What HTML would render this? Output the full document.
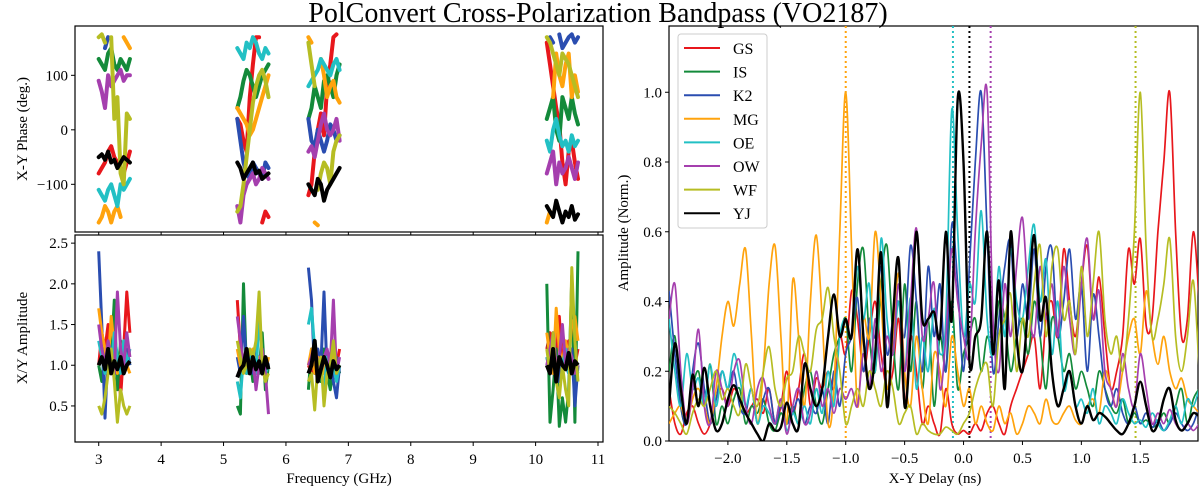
<!DOCTYPE html>
<html><head><meta charset="utf-8">
<style>
html,body{margin:0;padding:0;background:#fff;}
svg{display:block;font-family:"Liberation Serif","DejaVu Serif",serif;}
</style></head>
<body>
<svg id="fig" width="1200" height="492" viewBox="0 0 1200 492" xmlns="http://www.w3.org/2000/svg">
<text x="598" y="22" text-anchor="middle" font-size="28">PolConvert Cross-Polarization Bandpass (VO2187)</text>
</svg>
<script>
const stations = ["GS","IS","K2","MG","OE","OW","WF","YJ"];
const colors = ["#e8171c","#138a3a","#2a4db0","#ffa30d","#22c0c4","#a53fae","#b6bd23","#000000"];
const freqs = [];
const bandStarts = [3.00,5.22,6.36,10.18];
bandStarts.forEach(b=>{for(let k=0;k<11;k++)freqs.push(+(b+0.05*k).toFixed(2));});

const phaseGS=[-80,-70,-60,-40,-30,-50,-60,-70,-80,-60,-40, 20,10,-20,-40,60,120,170,170,-170,-150,-160, -120,-100,-40,0,30,-10,80,120,170,175,-160, 160,120,80,40,10,-60,-100,-40,-20,-60,-90];
const phaseIS=[130,120,110,140,150,120,110,130,120,110,130, 40,60,90,110,100,80,60,80,100,110,120, 20,40,80,60,40,90,100,80,60,100,120, 20,40,60,0,-20,60,40,20,60,30,10];
const phaseK2=[140,-160,150,170,-170,170,-150,160,-170,175,-165, 20,-20,-60,-80,-90,-60,-70,-80,-90,-60,-70, 20,-20,-30,0,-20,-40,-20,10,0,-20,-10, -170,170,160,-180,175,150,160,170,175,160,170];
const phaseMG=[-170,-160,-140,-150,-170,-150,-140,-160,170,160,150, 40,30,20,10,-10,0,20,40,60,80,100, 170,160,-170,-175,130,100,60,80,90,60,50, -170,-150,60,140,100,80,120,140,60,100,70];
const phaseOE=[-110,-120,-130,-110,-100,-120,-140,-100,-110,-100,-90, 150,140,130,160,150,170,160,140,130,150,140, 80,90,100,110,130,120,110,100,120,130,110, -20,-40,0,20,-10,-30,-20,-40,-10,-30,-20];
const phaseOW=[90,70,40,100,80,90,100,110,90,100,100, -140,-170,-120,-100,-90,-80,-100,-90,-70,-80,-90, -40,-30,-50,-20,10,30,0,-10,0,20,-20, -80,-60,-40,-100,-60,-80,-70,-50,-70,-90,-60];
const phaseWF=[170,175,160,-170,170,20,60,-80,-100,30,20, -150,-140,-100,-50,0,50,80,100,110,90,60, 160,120,80,-110,-80,-60,-70,-100,-40,-20,-10, 170,160,140,120,100,140,130,120,100,80,60];
const phaseYJ=[-50,-45,-55,-40,-60,-55,-70,-60,-50,-55,-60, -60,-70,-90,-80,-70,-60,-80,-75,-90,-85,-80, -100,-110,-120,-90,-100,-130,-110,-100,-90,-80,-70, -140,-150,-160,-130,-150,-170,-150,-160,-140,-165,-155];

const ampGS=[1.0,1.4,1.2,1.5,0.9,1.3,1.1,0.6,1.2,1.9,1.4, 1.8,1.2,1.0,0.9,1.1,1.0,0.9,1.1,1.0,0.9,1.0, 1.0,0.9,1.1,1.0,0.9,1.1,1.0,0.9,1.1,1.0,1.2, 1.2,1.4,0.9,1.1,1.6,1.0,1.2,1.3,1.1,1.0,1.2];
const ampIS=[1.0,0.8,1.2,0.9,1.1,1.8,0.7,1.3,0.9,1.2,1.0, 0.5,0.4,2.0,0.9,1.1,0.8,1.2,0.9,1.4,0.7,1.0, 0.7,1.2,0.9,1.1,0.8,1.2,0.9,0.7,1.0,1.1,0.9, 2.0,0.3,0.7,1.2,0.25,0.6,0.3,0.7,2.1,0.3,2.4];
const ampK2=[2.4,1.5,0.35,1.2,0.9,1.3,1.0,1.1,0.9,1.2,1.0, 1.1,0.9,1.6,1.0,1.1,0.9,1.2,1.0,0.9,1.1,1.0, 2.2,1.8,0.9,1.2,1.0,1.9,0.9,1.1,0.8,0.6,1.0, 1.1,0.9,1.2,1.0,0.8,1.1,1.0,0.9,1.2,0.5,1.0];
const ampMG=[1.7,1.4,1.2,1.0,1.6,1.2,0.9,1.1,1.3,1.0,0.9, 1.2,1.0,0.9,1.1,1.0,1.2,0.9,1.1,1.0,0.9,1.1, 1.0,1.2,0.9,1.1,1.0,0.9,1.1,1.0,1.2,0.9,1.0, 1.4,1.1,0.9,1.7,1.2,1.0,1.3,1.1,1.5,1.6,1.3];
const ampOE=[1.3,1.1,0.9,1.2,1.0,1.4,1.1,0.9,1.3,1.0,1.2, 0.8,0.6,1.1,0.9,1.2,1.0,0.9,1.6,1.1,0.9,1.0, 1.5,1.7,1.2,1.0,0.9,0.7,1.1,0.9,1.0,0.8,1.0, 1.1,1.0,1.2,0.9,1.1,1.0,1.2,0.9,1.1,1.0,0.9];
const ampOW=[1.5,1.2,1.0,1.3,1.1,0.9,1.9,1.2,1.0,1.4,1.1, 1.6,1.3,1.0,1.2,0.9,1.1,0.7,1.0,1.2,0.9,0.4, 1.0,1.1,1.3,1.0,0.9,1.1,1.2,1.0,1.8,0.9,1.1, 1.0,1.2,1.4,1.0,1.1,1.5,1.0,1.2,1.1,0.9,1.0];
const ampWF=[0.5,0.4,0.6,0.9,1.2,0.8,0.3,0.7,0.5,0.4,0.5, 1.3,1.1,0.9,1.0,1.2,1.1,1.3,1.9,1.0,0.8,0.9, 0.8,0.9,0.45,1.0,1.1,0.5,0.9,1.0,1.3,0.9,1.0, 1.2,0.9,1.4,0.8,0.6,1.0,0.7,0.5,2.2,1.3,0.8];
const ampYJ=[1.0,1.1,0.95,1.2,0.9,1.05,0.95,1.1,0.9,1.0,1.05, 0.85,0.95,1.0,1.2,0.9,1.1,0.95,1.05,0.9,1.1,0.95, 0.9,1.0,1.3,0.8,0.95,1.1,1.0,0.85,1.05,0.95,1.0, 1.0,0.9,1.2,0.8,1.1,1.0,0.95,1.15,0.9,1.05,1.0];

const delays=[];
for(let i=0;i<=90;i++)delays.push(+(-2.5+0.05*i).toFixed(2));
const lagGS=[0.15,0.05,0.02,0.08,0.1,0.05,0.02,0.05,0.12,0.15, 0.1,0.15,0.12,0.08,0.1,0.12,0.08,0.15,0.05,0.1, 0.2,0.08,0.15,0.25,0.1,0.18,0.15,0.2,0.15,0.3, 0.25,0.43,0.35,0.2,0.3,0.4,0.25,0.15,0.2,0.35, 0.1,0.3,0.2,0.05,0.1,0.05,0.02,0.15,0.05,0.02, 0.03,0.02,0.05,0.03,0.08,0.1,0.05,0.02,0.1,0.15, 0.2,0.25,0.3,0.15,0.35,0.4,0.3,0.55,0.4,0.3, 0.45,0.56,0.35,0.47,0.3,0.15,0.2,0.3,0.55,0.45, 0.58,0.33,0.35,0.6,0.8,1.0,0.6,0.3,0.35,0.6,0.4];
const lagIS=[0.2,0.3,0.1,0.05,0.15,0.2,0.1,0.22,0.05,0.1, 0.05,0.12,0.15,0.05,0.1,0.08,0.12,0.05,0.03,0.08, 0.05,0.1,0.05,0.15,0.2,0.1,0.05,0.15,0.25,0.3, 0.35,0.2,0.45,0.55,0.3,0.2,0.45,0.56,0.3,0.15, 0.45,0.2,0.4,0.15,0.35,0.1,0.3,0.2,0.4,0.15, 0.25,0.3,0.35,0.2,0.3,0.25,0.4,0.35,0.2,0.3, 0.35,0.25,0.4,0.3,0.15,0.35,0.3,0.2,0.25,0.15, 0.2,0.15,0.1,0.2,0.15,0.1,0.08,0.12,0.05,0.08, 0.05,0.06,0.04,0.05,0.08,0.05,0.1,0.15,0.05,0.12,0.15];
const lagK2=[0.43,0.25,0.1,0.05,0.2,0.28,0.15,0.05,0.12,0.2, 0.15,0.2,0.1,0.08,0.15,0.05,0.12,0.15,0.05,0.1, 0.05,0.08,0.12,0.05,0.1,0.08,0.15,0.05,0.2,0.1, 0.25,0.3,0.41,0.2,0.35,0.3,0.5,0.25,0.35,0.4, 0.3,0.56,0.4,0.2,0.5,0.3,0.45,0.2,0.62,0.45, 0.2,0.5,0.8,1.0,0.6,0.2,0.35,0.5,0.57,0.3, 0.45,0.35,0.55,0.3,0.5,0.55,0.3,0.4,0.55,0.35, 0.45,0.2,0.42,0.3,0.15,0.1,0.15,0.08,0.05,0.1, 0.05,0.08,0.04,0.06,0.03,0.05,0.08,0.05,0.03,0.05,0.1];
const lagMG=[0.05,0.08,0.1,0.05,0.12,0.15,0.1,0.05,0.15,0.3, 0.4,0.33,0.45,0.55,0.3,0.05,0.2,0.45,0.56,0.3, 0.05,0.46,0.3,0.1,0.4,0.59,0.35,0.05,0.15,0.6, 1.0,0.55,0.1,0.35,0.3,0.6,0.4,0.15,0.3,0.48, 0.2,0.1,0.3,0.15,0.05,0.25,0.2,0.1,0.3,0.2, 0.1,0.15,0.05,0.1,0.05,0.03,0.1,0.05,0.08,0.02, 0.05,0.1,0.08,0.05,0.12,0.06,0.05,0.08,0.1,0.06, 0.05,0.1,0.12,0.08,0.2,0.15,0.1,0.2,0.3,0.35, 0.25,0.43,0.3,0.22,0.3,0.2,0.15,0.18,0.12,0.1,0.08];
const lagOE=[0.35,0.2,0.1,0.25,0.15,0.18,0.1,0.22,0.1,0.2, 0.15,0.25,0.18,0.1,0.15,0.05,0.1,0.08,0.05,0.12, 0.03,0.08,0.05,0.1,0.05,0.15,0.08,0.2,0.1,0.3, 0.35,0.3,0.5,0.35,0.45,0.2,0.58,0.35,0.25,0.4, 0.2,0.41,0.15,0.3,0.2,0.38,0.25,0.35,0.95,0.6, 0.3,0.45,0.4,0.66,0.35,0.25,0.5,0.3,0.55,0.4, 0.35,0.5,0.62,0.4,0.52,0.25,0.4,0.15,0.2,0.1, 0.12,0.08,0.15,0.05,0.1,0.08,0.05,0.12,0.08,0.05, 0.06,0.04,0.08,0.05,0.03,0.06,0.1,0.05,0.12,0.1,0.15];
const lagOW=[0.35,0.45,0.2,0.05,0.15,0.32,0.1,0.05,0.2,0.15, 0.1,0.2,0.23,0.1,0.05,0.15,0.18,0.1,0.05,0.12, 0.02,0.1,0.15,0.05,0.08,0.2,0.1,0.15,0.08,0.15, 0.12,0.15,0.1,0.25,0.15,0.35,0.2,0.3,0.25,0.45, 0.2,0.4,0.61,0.3,0.35,0.45,0.15,0.3,0.55,0.4, 0.3,0.25,0.6,0.85,1.0,0.35,0.2,0.45,0.3,0.5, 0.64,0.4,0.3,0.5,0.35,0.45,0.3,0.5,0.35,0.25, 0.45,0.58,0.35,0.43,0.2,0.15,0.1,0.25,0.15,0.1, 0.25,0.15,0.05,0.08,0.05,0.09,0.05,0.03,0.05,0.03,0.05];
const lagWF=[0.1,0.08,0.05,0.02,0.08,0.12,0.1,0.15,0.2,0.12, 0.15,0.1,0.08,0.22,0.15,0.1,0.2,0.27,0.15,0.1, 0.18,0.2,0.3,0.25,0.2,0.32,0.35,0.44,0.3,0.2, 0.05,0.1,0.15,0.1,0.2,0.15,0.1,0.2,0.15,0.05, 0.08,0.1,0.02,0.05,0.03,0.02,0.02,0.04,0.03,0.02, 0.05,0.08,0.15,0.2,0.22,0.1,0.3,0.35,0.42,0.2, 0.35,0.3,0.45,0.56,0.3,0.5,0.55,0.35,0.4,0.25, 0.5,0.3,0.45,0.6,0.35,0.25,0.3,0.2,0.35,0.6, 1.0,0.55,0.3,0.35,0.45,0.58,0.3,0.2,0.3,0.46,0.2];
const lagYJ=[0.1,0.28,0.15,0.05,0.19,0.1,0.21,0.1,0.03,0.05, 0.12,0.16,0.12,0.08,0.05,0.02,0.0,0.05,0.03,0.04, 0.11,0.05,0.04,0.22,0.15,0.1,0.15,0.3,0.42,0.3, 0.35,0.3,0.55,0.3,0.15,0.25,0.54,0.1,0.35,0.52, 0.1,0.3,0.6,0.35,0.35,0.37,0.3,0.6,0.35,0.98, 0.8,0.23,0.3,0.35,0.6,0.25,0.46,0.15,0.6,0.3, 0.2,0.4,0.59,0.35,0.41,0.2,0.1,0.15,0.2,0.1, 0.05,0.1,0.06,0.08,0.07,0.05,0.03,0.02,0.05,0.1, 0.17,0.1,0.03,0.05,0.12,0.15,0.06,0.03,0.05,0.08,0.07];

const peakDelays=[-1.0,-0.09,0.05,0.23,1.46];
const peakStations=["MG","OE","YJ","OW","WF"];

const phaseTicks=[-100,0,100];
const ampTicks=[0.5,1.0,1.5,2.0,2.5];
const freqTicks=[3,4,5,6,7,8,9,10,11];
const delayTicks=[-2.0,-1.5,-1.0,-0.5,0.0,0.5,1.0,1.5];
const normTicks=[0.0,0.2,0.4,0.6,0.8,1.0];

const phases=[phaseGS,phaseIS,phaseK2,phaseMG,phaseOE,phaseOW,phaseWF,phaseYJ];
const amps=[ampGS,ampIS,ampK2,ampMG,ampOE,ampOW,ampWF,ampYJ];
const lags=[lagGS,lagIS,lagK2,lagMG,lagOE,lagOW,lagWF,lagYJ];

const NS="http://www.w3.org/2000/svg";
const svg=document.getElementById('fig');
function mk(tag,attrs,parent){const e=document.createElementNS(NS,tag);for(const k in attrs)e.setAttribute(k,attrs[k]);(parent||svg).appendChild(e);return e;}
function fmt(v,d){const s=v.toFixed(d);return v<0?'\u2212'+s.slice(1):s;}

const PL={x0:75,x1:603},TOP={y0:26,y1:232},BOT={y0:235,y1:442},PR={x0:669,x1:1198,y0:26,y1:441};
const fx=f=>PL.x0+(f-2.62)/(11.08-2.62)*(PL.x1-PL.x0);
const py=p=>TOP.y0+(190.5-p)/(190.5+187.5)*(TOP.y1-TOP.y0);
const ay=a=>BOT.y0+(2.6-a)/(2.6-0.057)*(BOT.y1-BOT.y0);
const dx=d=>PR.x0+(d+2.50)/(1.99+2.50)*(PR.x1-PR.x0);
const ny=v=>PR.y1-v/1.19*(PR.y1-PR.y0);

const defs=mk('defs',{});
[['clipTop',PL.x0,TOP.y0,PL.x1-PL.x0,TOP.y1-TOP.y0],['clipBot',PL.x0,BOT.y0,PL.x1-PL.x0,BOT.y1-BOT.y0],['clipR',PR.x0,PR.y0,PR.x1-PR.x0,PR.y1-PR.y0]].forEach(c=>{const cp=mk('clipPath',{id:c[0]},defs);mk('rect',{x:c[1],y:c[2],width:c[3],height:c[4]},cp);});

const gTop=mk('g',{'clip-path':'url(#clipTop)'});


stations.forEach((s,si)=>{
  for(let b=0;b<4;b++){
    let seg=[];
    const flush=()=>{if(seg.length){const pl=mk('polyline',{points:seg.join(' '),fill:'none',stroke:colors[si],'stroke-width':4,'stroke-linejoin':'round','stroke-linecap':'round'},gTop);
      
      }seg=[];};
    for(let k=0;k<11;k++){const i=b*11+k;
      if(k>0&&Math.abs(phases[si][i]-phases[si][i-1])>180)flush();
      seg.push(fx(freqs[i]).toFixed(1)+','+py(phases[si][i]).toFixed(1));}
    flush();
  }
});
const gBot=mk('g',{'clip-path':'url(#clipBot)'});


stations.forEach((s,si)=>{
  for(let b=0;b<4;b++){
    const pts=[];for(let k=0;k<11;k++){const i=b*11+k;pts.push(fx(freqs[i]).toFixed(1)+','+ay(amps[si][i]).toFixed(1));}
    const pl=mk('polyline',{points:pts.join(' '),fill:'none',stroke:colors[si],'stroke-width':si===7?4:3,'stroke-linejoin':'round'},gBot);
    
    
  }
});
[[PL.x0,TOP.y0,PL.x1,TOP.y1,'phase-axes-frame'],[PL.x0,BOT.y0,PL.x1,BOT.y1,'amplitude-axes-frame'],[PR.x0,PR.y0,PR.x1,PR.y1,'delay-axes-frame']].forEach(f=>{
  const r=mk('rect',{x:f[0],y:f[1],width:f[2]-f[0],height:f[3]-f[1],fill:'none',stroke:'#000','stroke-width':1.2});
  
  
});
phaseTicks.forEach(t=>{const y=py(t);mk('line',{x1:PL.x0-4,x2:PL.x0,y1:y,y2:y,stroke:'#000'});
  const tx=mk('text',{x:PL.x0-7,y:y+5,'text-anchor':'end','font-size':15});tx.textContent=fmt(t,0);
  
  });
ampTicks.forEach(t=>{const y=ay(t);mk('line',{x1:PL.x0-4,x2:PL.x0,y1:y,y2:y,stroke:'#000'});
  const tx=mk('text',{x:PL.x0-7,y:y+5,'text-anchor':'end','font-size':15});tx.textContent=fmt(t,1);
  
  });
freqTicks.forEach(t=>{const x=fx(t);mk('line',{x1:x,x2:x,y1:TOP.y1,y2:TOP.y1+3,stroke:'#000'});mk('line',{x1:x,x2:x,y1:BOT.y1,y2:BOT.y1+4,stroke:'#000'});
  const tx=mk('text',{x:x,y:BOT.y1+22,'text-anchor':'middle','font-size':15});tx.textContent=String(t);
  
  });
const gR=mk('g',{'clip-path':'url(#clipR)'});


peakDelays.forEach((d,i)=>{const x=dx(d);const ln=mk('line',{x1:x,x2:x,y1:PR.y0,y2:PR.y1,stroke:colors[stations.indexOf(peakStations[i])],'stroke-width':2,'stroke-dasharray':'2,3'},gR);
  
  });
function spline(xs,ys){let d='M'+xs[0].toFixed(1)+','+ys[0].toFixed(1);
  for(let i=0;i<xs.length-1;i++){const i0=Math.max(i-1,0),i3=Math.min(i+2,xs.length-1);
    const c1x=xs[i]+(xs[i+1]-xs[i0])/6,c1y=ys[i]+(ys[i+1]-ys[i0])/6,c2x=xs[i+1]-(xs[i3]-xs[i])/6,c2y=ys[i+1]-(ys[i3]-ys[i])/6;
    d+=' C'+c1x.toFixed(1)+','+c1y.toFixed(1)+' '+c2x.toFixed(1)+','+c2y.toFixed(1)+' '+xs[i+1].toFixed(1)+','+ys[i+1].toFixed(1);}
  return d;}
stations.forEach((s,si)=>{const xs=delays.map(dx),ys=lags[si].map(ny);
  const p=mk('path',{d:spline(xs,ys),fill:'none',stroke:colors[si],'stroke-width':si===7?2.4:1.7},gR);
  
  });
delayTicks.forEach(t=>{const x=dx(t);mk('line',{x1:x,x2:x,y1:PR.y1,y2:PR.y1+4,stroke:'#000'});
  const tx=mk('text',{x:x,y:PR.y1+22,'text-anchor':'middle','font-size':15});tx.textContent=fmt(t,1);
  
  });
normTicks.forEach(t=>{const y=ny(t);mk('line',{x1:PR.x0-4,x2:PR.x0,y1:y,y2:y,stroke:'#000'});
  const tx=mk('text',{x:PR.x0-7,y:y+5,'text-anchor':'end','font-size':15});tx.textContent=t.toFixed(1);
  
  });
const lg=mk('g',{});


mk('rect',{x:678,y:34,width:89,height:194,rx:3,fill:'#fff','fill-opacity':0.85,stroke:'#ccc'},lg);
stations.forEach((s,si)=>{const y=48+si*23.6;
  const e=mk('g',{},lg);
  
  
  mk('line',{x1:684,x2:720,y1:y,y2:y,stroke:colors[si],'stroke-width':2},e);
  const t=mk('text',{x:733,y:y+6,'font-size':16},e);t.textContent=s;});
function lab(txt,x,y,rot,name){const t=mk('text',{x:x,y:y,'text-anchor':'middle','font-size':15,transform:rot?'rotate(-90 '+x+' '+y+')':''});t.textContent=txt;
  
  }
lab('X-Y Phase (deg.)',27,129,true,'phase-y-axis-title');
lab('X/Y Amplitude',27,338,true,'amplitude-y-axis-title');
lab('Frequency (GHz)',339,483,false,'frequency-x-axis-title');
lab('Amplitude (Norm.)',628,233,true,'norm-amplitude-y-axis-title');
lab('X-Y Delay (ns)',935,483,false,'delay-x-axis-title');
</script>
</body></html>
